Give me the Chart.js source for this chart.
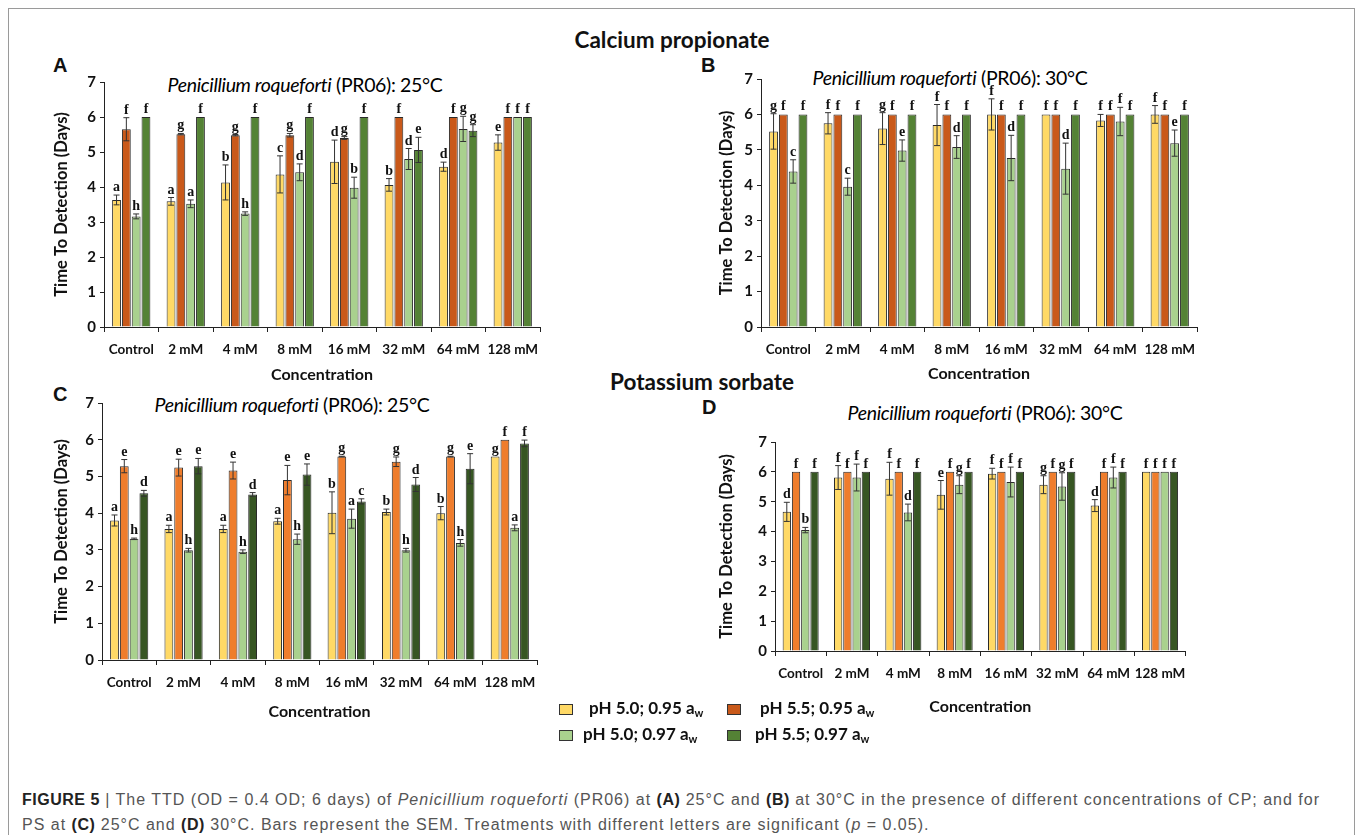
<!DOCTYPE html>
<html><head><meta charset="utf-8">
<script src="https://cdn.jsdelivr.net/npm/chart.js@4.4.0/dist/chart.umd.min.js"></script>
<style>
body{margin:0;background:#fff;}
#fig{position:relative;width:1356px;height:835px;overflow:hidden;font-family:Lato,sans-serif;color:#111;background:#fff;}
.abs{position:absolute;white-space:nowrap;}
canvas{position:absolute;}
.ctr{text-align:center;width:600px;}
.ptitle{font-size:19.5px;line-height:24px;font-weight:normal;letter-spacing:-0.35px;color:#000;}
.plabel{font-family:"Liberation Sans",Arial,sans-serif;font-weight:bold;font-size:20px;line-height:22px;}
.sec{font-size:22.5px;line-height:26px;font-weight:bold;}
.lg{font-family:Lato,sans-serif;font-weight:bold;font-size:17px;line-height:20px;}
.lg sub{font-size:11px;vertical-align:-3px;}
.sw{position:absolute;width:12px;height:9px;border:1px solid #333;}
.cap{font-family:"Liberation Sans",Arial,sans-serif;font-size:16px;letter-spacing:1.0px;line-height:20px;color:#555;}
.cap b{color:#222;letter-spacing:0.5px;}
</style></head><body>
<div id="fig">
<div class="abs" style="left:8px;top:8px;width:1345px;height:850px;border:1px solid #9a9a9a;"></div>

<div class="abs ctr sec" style="left:372px;top:27px;">Calcium propionate</div>
<div class="abs ctr sec" style="left:402px;top:369px;">Potassium sorbate</div>

<div class="abs plabel" style="left:53px;top:54px;">A</div>
<div class="abs plabel" style="left:701px;top:54px;">B</div>
<div class="abs plabel" style="left:53px;top:383px;">C</div>
<div class="abs plabel" style="left:702px;top:396px;">D</div>

<div class="abs ctr ptitle" style="left:5px;top:73px;"><i>Penicillium roqueforti</i> (PR06): 25°C</div>
<div class="abs ctr ptitle" style="left:650px;top:66px;"><i>Penicillium roqueforti</i> (PR06): 30°C</div>
<div class="abs ctr ptitle" style="left:-8px;top:393px;"><i>Penicillium roqueforti</i> (PR06): 25°C</div>
<div class="abs ctr ptitle" style="left:685px;top:401px;"><i>Penicillium roqueforti</i> (PR06): 30°C</div>

<canvas id="cA"></canvas>
<canvas id="cB"></canvas>
<canvas id="cC"></canvas>
<canvas id="cD"></canvas>

<div id="legend"></div>

<div class="abs cap" style="left:22px;top:790px;"><b>FIGURE 5</b> | The TTD (OD = 0.4 OD; 6 days) of <i>Penicillium roqueforti</i> (PR06) at <b>(A)</b> 25°C and <b>(B)</b> at 30°C in the presence of different concentrations of CP; and for</div>
<div class="abs cap" style="left:22px;top:815px;">PS at <b>(C)</b> 25°C and <b>(D)</b> 30°C. Bars represent the SEM. Treatments with different letters are significant (<i>p</i> = 0.05).</div>
</div>

<script>
// ---------- categories & ticks ----------
const categories = ["Control", "2 mM", "4 mM", "8 mM", "16 mM", "32 mM", "64 mM", "128 mM"];
const yTicks = [0, 1, 2, 3, 4, 5, 6, 7];
const seriesNames = ["pH 5.0; 0.95 a_w", "pH 5.5; 0.95 a_w", "pH 5.0; 0.97 a_w", "pH 5.5; 0.97 a_w"];

// ---------- Panel A: Calcium propionate, 25°C ----------
const A_pH50_aw095 = [3.63, 3.59, 4.13, 4.36, 4.72, 4.06, 4.58, 5.27];
const A_pH55_aw095 = [5.65, 5.51, 5.48, 5.48, 5.40, 6.00, 6.00, 6.00];
const A_pH50_aw097 = [3.16, 3.52, 3.24, 4.42, 3.98, 4.80, 5.66, 6.00];
const A_pH55_aw097 = [6.00, 6.00, 6.00, 6.00, 6.00, 5.06, 5.61, 6.00];
const A_sem50_095 = [0.14, 0.11, 0.50, 0.53, 0.62, 0.18, 0.13, 0.22];
const A_sem55_095 = [0.33, 0.02, 0.02, 0.05, 0.04, 0, 0, 0];
const A_sem50_097 = [0.07, 0.11, 0.05, 0.24, 0.30, 0.30, 0.36, 0];
const A_sem55_097 = [0, 0, 0, 0, 0, 0.36, 0.17, 0];
const A_let50_095 = ["a", "a", "b", "c", "d", "b", "d", "e"];
const A_let55_095 = ["f", "g", "g", "g", "g", "f", "f", "f"];
const A_let50_097 = ["h", "a", "h", "d", "b", "d", "g", "f"];
const A_let55_097 = ["f", "f", "f", "f", "f", "e", "g", "f"];

// ---------- Panel B: Calcium propionate, 30°C ----------
const B_pH50_aw095 = [5.52, 5.75, 5.60, 5.70, 6.00, 6.00, 5.83, 6.00];
const B_pH55_aw095 = [6.00, 6.00, 6.00, 6.00, 6.00, 6.00, 6.00, 6.00];
const B_pH50_aw097 = [4.39, 3.96, 4.98, 5.08, 4.77, 4.47, 5.80, 5.19];
const B_pH55_aw097 = [6.00, 6.00, 6.00, 6.00, 6.00, 6.00, 6.00, 6.00];
const B_sem50_095 = [0.50, 0.30, 0.45, 0.58, 0.44, 0, 0.17, 0.25];
const B_sem55_095 = [0, 0, 0, 0, 0, 0, 0, 0];
const B_sem50_097 = [0.33, 0.24, 0.30, 0.32, 0.64, 0.72, 0.40, 0.37];
const B_sem55_097 = [0, 0, 0, 0, 0, 0, 0, 0];
const B_let50_095 = ["g", "f", "g", "f", "f", "f", "f", "f"];
const B_let55_095 = ["f", "f", "f", "f", "f", "f", "f", "f"];
const B_let50_097 = ["c", "c", "e", "d", "d", "d", "f", "e"];
const B_let55_097 = ["f", "f", "f", "f", "f", "f", "f", "f"];

// ---------- Panel C: Potassium sorbate, 25°C ----------
const C_pH50_aw095 = [3.80, 3.57, 3.57, 3.78, 4.01, 4.03, 4.00, 5.54];
const C_pH55_aw095 = [5.28, 5.24, 5.16, 4.90, 5.54, 5.40, 5.54, 6.00];
const C_pH50_aw097 = [3.30, 2.99, 2.95, 3.29, 3.85, 2.99, 3.19, 3.60];
const C_pH55_aw097 = [4.54, 5.28, 4.51, 5.05, 4.32, 4.78, 5.21, 5.90];
const C_sem50_095 = [0.15, 0.10, 0.10, 0.08, 0.57, 0.08, 0.18, 0];
const C_sem55_095 = [0.18, 0.23, 0.23, 0.40, 0.01, 0.13, 0.01, 0];
const C_sem50_097 = [0.02, 0.05, 0.05, 0.14, 0.26, 0.05, 0.09, 0.08];
const C_sem55_097 = [0.08, 0.21, 0.05, 0.29, 0.07, 0.19, 0.41, 0.09];
const C_let50_095 = ["a", "a", "a", "a", "b", "b", "b", "g"];
const C_let55_095 = ["e", "e", "e", "e", "g", "g", "g", "f"];
const C_let50_097 = ["h", "h", "h", "h", "a", "h", "h", "a"];
const C_let55_097 = ["d", "e", "d", "e", "c", "d", "e", "f"];

// ---------- Panel D: Potassium sorbate, 30°C ----------
const D_pH50_aw095 = [4.66, 5.81, 5.77, 5.23, 5.94, 5.57, 4.87, 6.00];
const D_pH55_aw095 = [6.00, 6.00, 6.00, 6.00, 6.00, 6.00, 6.00, 6.00];
const D_pH50_aw097 = [4.05, 5.81, 4.64, 5.57, 5.66, 5.51, 5.81, 6.00];
const D_pH55_aw097 = [6.00, 6.00, 6.00, 6.00, 6.00, 6.00, 6.00, 6.00];
const D_sem50_095 = [0.32, 0.40, 0.55, 0.48, 0.18, 0.30, 0.20, 0];
const D_sem55_095 = [0, 0, 0, 0, 0, 0, 0, 0];
const D_sem50_097 = [0.09, 0.45, 0.28, 0.30, 0.50, 0.46, 0.35, 0];
const D_sem55_097 = [0, 0, 0, 0, 0, 0, 0, 0];
const D_let50_095 = ["d", "f", "f", "e", "f", "g", "d", "f"];
const D_let55_095 = ["f", "f", "f", "f", "f", "f", "f", "f"];
const D_let50_097 = ["b", "f", "d", "g", "f", "g", "f", "f"];
const D_let55_097 = ["f", "f", "f", "f", "f", "f", "f", "f"];

// ---------- colours ----------
const colorsCP = ["#FFD966", "#C9591A", "#A9D18E", "#548235"];
const colorsPS = ["#FFD966", "#EF7D2C", "#A9D18E", "#375623"];
const legendColors = ["#FFD966", "#C9591A", "#A9D18E", "#548235"];

// ---------- error bars + letters plugin ----------
const errLetters = {
  id: "errLetters",
  afterDatasetsDraw(chart) {
    const ctx = chart.ctx, ys = chart.scales.y;
    chart.data.datasets.forEach((ds, i) => {
      const meta = chart.getDatasetMeta(i);
      meta.data.forEach((el, j) => {
        const v = ds.data[j], e = ds.sem[j] || 0;
        const x = el.x;
        let top = el.y;
        if (e > 0) {
          const yT = ys.getPixelForValue(v + e), yB = ys.getPixelForValue(v - e);
          ctx.save();
          ctx.strokeStyle = "#333"; ctx.lineWidth = 1;
          ctx.beginPath();
          ctx.moveTo(x, yT); ctx.lineTo(x, yB);
          ctx.moveTo(x - 3, yT); ctx.lineTo(x + 3, yT);
          ctx.moveTo(x - 3, yB); ctx.lineTo(x + 3, yB);
          ctx.stroke();
          ctx.restore();
          top = Math.min(top, yT);
        }
        ctx.save();
        ctx.fillStyle = "#111";
        ctx.font = "bold 14px 'Liberation Serif', serif";
        ctx.textAlign = "center"; ctx.textBaseline = "alphabetic";
        ctx.fillText(ds.letters[j], x, top - 4);
        ctx.restore();
      });
    });
  }
};

function makePanel(id, area, xTitleBelow, yTitleX, colors, series, sems, letters) {
  const padL = 90, padT = 28, padR = 10, xH = 66;
  const cv = document.getElementById(id);
  const cl = area.left - padL, ct = area.top - padT;
  const w = area.right - cl + padR, h = area.bottom - ct + xH;
  cv.width = w; cv.height = h;
  cv.style.left = cl + "px"; cv.style.top = ct + "px";
  cv.style.width = w + "px"; cv.style.height = h + "px";
  new Chart(cv, {
    type: "bar",
    data: {
      labels: categories,
      datasets: series.map((d, i) => ({
        label: seriesNames[i],
        data: d,
        sem: sems[i],
        letters: letters[i],
        backgroundColor: colors[i],
        borderColor: "#2a2a2a",
        borderWidth: 1,
        categoryPercentage: 0.72,
        barPercentage: 0.9
      }))
    },
    options: {
      responsive: false,
      animation: false,
      devicePixelRatio: 1,
      layout: { padding: { left: 0, top: padT, right: padR, bottom: 0 } },
      plugins: { legend: { display: false }, tooltip: { enabled: false }, title: { display: false } },
      scales: {
        x: {
          grid: { display: true, offset: true, drawOnChartArea: false, drawTicks: true, tickLength: 5, color: "#222", lineWidth: 1 },
          border: { display: true, color: "#222", width: 1 },
          ticks: { color: "#111", font: { family: "Lato", size: 13.5, weight: "bold" }, padding: 10, maxRotation: 0, autoSkip: false },
          title: { display: true, text: "Concentration", color: "#111", font: { family: "Lato", size: 16, weight: "bold" }, padding: { top: 0, bottom: xH - xTitleBelow - 10 } },
          afterFit: s => { s.height = xH; }
        },
        y: {
          min: 0, max: 7,
          afterBuildTicks: s => { s.ticks = yTicks.map(v => ({ value: v })); },
          grid: { display: true, drawOnChartArea: false, drawTicks: true, tickLength: 4, color: "#222" },
          border: { display: true, color: "#222", width: 1 },
          ticks: { color: "#111", font: { family: "Lato", size: 15, weight: "bold" }, padding: 4 },
          title: { display: true, text: "Time To Detection (Days)", color: "#111", font: { family: "Lato", size: 16.5, weight: "bold" }, padding: { top: yTitleX - cl - 10, bottom: 0 } },
          afterFit: s => { s.width = padL; }
        }
      }
    },
    plugins: [errLetters]
  });
}

makePanel("cA", { left: 104, top: 82, right: 540, bottom: 327 }, 47, 62, colorsCP,
  [A_pH50_aw095, A_pH55_aw095, A_pH50_aw097, A_pH55_aw097],
  [A_sem50_095, A_sem55_095, A_sem50_097, A_sem55_097],
  [A_let50_095, A_let55_095, A_let50_097, A_let55_097]);
makePanel("cB", { left: 761, top: 79, right: 1197, bottom: 327 }, 46, 727, colorsCP,
  [B_pH50_aw095, B_pH55_aw095, B_pH50_aw097, B_pH55_aw097],
  [B_sem50_095, B_sem55_095, B_sem50_097, B_sem55_097],
  [B_let50_095, B_let55_095, B_let50_097, B_let55_097]);
makePanel("cC", { left: 102, top: 403, right: 537, bottom: 660 }, 51, 62, colorsPS,
  [C_pH50_aw095, C_pH55_aw095, C_pH50_aw097, C_pH55_aw097],
  [C_sem50_095, C_sem55_095, C_sem50_097, C_sem55_097],
  [C_let50_095, C_let55_095, C_let50_097, C_let55_097]);
makePanel("cD", { left: 775, top: 442, right: 1186, bottom: 651 }, 55, 727, colorsPS,
  [D_pH50_aw095, D_pH55_aw095, D_pH50_aw097, D_pH55_aw097],
  [D_sem50_095, D_sem55_095, D_sem50_097, D_sem55_097],
  [D_let50_095, D_let55_095, D_let50_097, D_let55_097]);

// ---------- shared legend ----------
const legendPos = [[559, 704, 589], [727, 704, 760], [559, 730, 583], [727, 730, 755]];
const lg = document.getElementById("legend");
seriesNames.forEach((n, i) => {
  const [sx, sy, tx] = legendPos[i];
  const sw = document.createElement("div");
  sw.className = "sw"; sw.style.left = sx + "px"; sw.style.top = sy + "px";
  sw.style.background = legendColors[i];
  lg.appendChild(sw);
  const t = document.createElement("div");
  t.className = "abs lg"; t.style.left = tx + "px"; t.style.top = (sy - 6) + "px";
  t.innerHTML = n.replace("a_w", "a<sub>w</sub>");
  lg.appendChild(t);
});
</script>
</body></html>
